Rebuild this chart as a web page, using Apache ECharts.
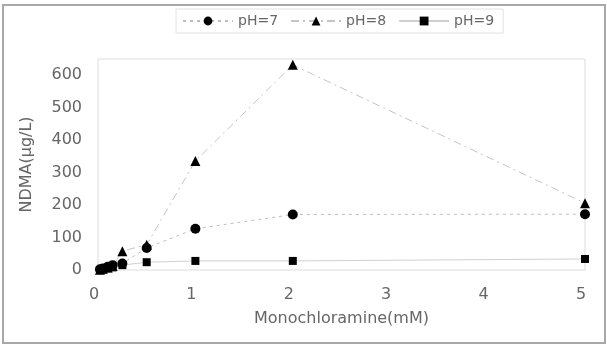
<!DOCTYPE html>
<html>
<head>
<meta charset="utf-8">
<script src="https://cdn.jsdelivr.net/npm/echarts@6/dist/echarts.min.js"></script>
<style>
  html, body { margin: 0; padding: 0; background: #fff; }
  #chart { width: 607px; height: 347px; }
</style>
</head>
<body>
<div id="chart"></div>
<script>
// 数据
const doseMM = [0.02, 0.05, 0.1, 0.15, 0.25, 0.5, 1, 2, 5];
const ph7 = [2, 5, 10, 15, 20, 68, 127, 171, 172];
const ph8 = [1, 4, 8, 12, 58, 78, 336, 632, 206];
const ph9 = [0, 2, 5, 8, 15, 24, 28, 28, 34];
const seriesNames = ["pH=7", "pH=8", "pH=9"];
const xTicks = [0, 1, 2, 3, 4, 5];
const yTicks = [0, 100, 200, 300, 400, 500, 600];

const toPairs = vals => doseMM.map((x, i) => [x, vals[i]]);
const txt = "#666";
const font = "DejaVu Sans";

const option = {
  backgroundColor: "#fff",
  animation: false,
  graphic: [{
    type: "rect",
    shape: { x: 3, y: 5, width: 602, height: 338 },
    style: { fill: "none", stroke: "#a8a8a8", lineWidth: 2 },
    silent: true
  }],
  legend: {
    data: seriesNames,
    left: 176,
    top: 9,
    padding: [5, 9, 5, 6],
    itemGap: 12,
    itemWidth: 50,
    itemHeight: 11,
    borderColor: "#e2e2e2",
    borderWidth: 1,
    textStyle: { color: txt, fontSize: 14, fontFamily: font }
  },
  grid: {
    left: 98, right: 22, top: 59, bottom: 77,
    show: true,
    borderColor: "#dcdcdc",
    borderWidth: 1
  },
  xAxis: {
    type: "value",
    min: 0, max: 5, interval: 1,
    name: "Monochloramine(mM)",
    nameLocation: "middle",
    nameGap: 41,
    nameTextStyle: { color: txt, fontSize: 16, fontFamily: font },
    axisLine: { show: false },
    axisTick: { show: false },
    splitLine: { show: false },
    axisLabel: {
      color: txt, fontSize: 16, fontFamily: font, margin: 17,
      padding: [0, 8, 0, 0],
      formatter: v => xTicks.includes(v) ? String(v) : ""
    }
  },
  yAxis: {
    type: "value",
    min: 0, max: 650, interval: 100,
    name: "NDMA(μg/L)",
    nameLocation: "middle",
    nameGap: 63,
    nameTextStyle: { color: txt, fontSize: 16, fontFamily: font },
    axisLine: { show: false },
    axisTick: { show: false },
    splitLine: { show: false },
    axisLabel: {
      color: txt, fontSize: 16, fontFamily: font, margin: 16,
      formatter: v => yTicks.includes(v) ? String(v) : ""
    }
  },
  series: [
    {
      name: "pH=7",
      type: "line",
      data: toPairs(ph7),
      symbol: "circle",
      symbolSize: 10,
      itemStyle: { color: "#000" },
      lineStyle: { color: "#bdbdbd", width: 1, type: [3, 4] }
    },
    {
      name: "pH=8",
      type: "line",
      data: toPairs(ph8),
      symbol: "triangle",
      symbolSize: 10,
      itemStyle: { color: "#000" },
      lineStyle: { color: "#c4c4c4", width: 1, type: [8, 4, 2, 4] }
    },
    {
      name: "pH=9",
      type: "line",
      data: toPairs(ph9),
      symbol: "rect",
      symbolSize: 8,
      itemStyle: { color: "#000" },
      lineStyle: { color: "#d0d0d0", width: 1, type: "solid" }
    }
  ]
};

const chartObj = echarts.init(document.getElementById("chart"));
chartObj.setOption(option, true);
window.addEventListener("resize", () => { chartObj.resize(); });
</script>
</body>
</html>
